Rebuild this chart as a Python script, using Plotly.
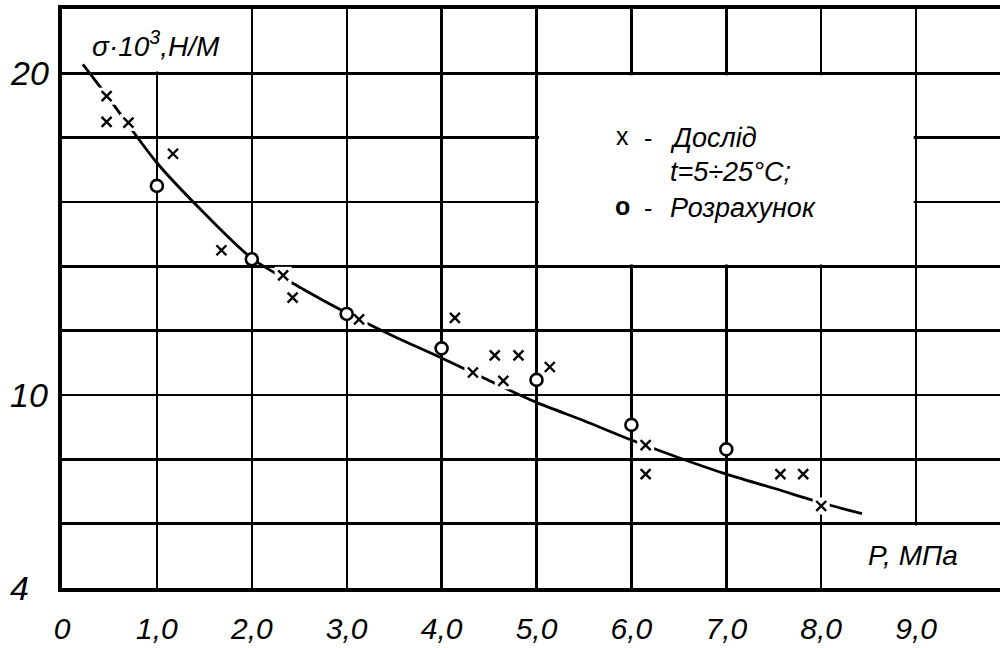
import plotly.graph_objects as go

# ---------------- data ----------------
# experimental points ("x" - Дослід)
exp_p = [0.47, 0.47, 0.70, 1.17, 1.68, 2.33, 2.43, 3.13, 4.14, 4.33, 4.56, 4.65, 4.81, 5.14, 6.15, 6.15, 7.57, 7.81, 8.00]
exp_s = [19.29, 18.49, 18.47, 17.50, 14.50, 13.72, 13.03, 12.35, 12.40, 10.70, 11.23, 10.44, 11.23, 10.87, 8.44, 7.54, 7.54, 7.54, 6.55]

# calculated points ("o" - Розрахунок)
calc_p = [1.0, 2.0, 3.0, 4.0, 5.0, 6.0, 7.0]
calc_s = [16.50, 14.22, 12.52, 11.45, 10.47, 9.07, 8.31]

# smooth curve
curve_p = [0.22, 0.5, 1.0, 1.5, 2.0, 2.5, 3.0, 3.5, 4.0, 4.5, 5.0, 5.5, 6.0, 6.5, 7.0, 7.5, 8.0, 8.43]
curve_s = [20.28, 19.20, 17.22, 15.65, 14.25, 13.36, 12.55, 11.82, 11.15, 10.45, 9.77, 9.20, 8.60, 8.05, 7.54, 7.10, 6.65, 6.31]

x_tick_vals = [0, 1, 2, 3, 4, 5, 6, 7, 8, 9]
x_tick_text = ["0", "1,0", "2,0", "3,0", "4,0", "5,0", "6,0", "7,0", "8,0", "9,0"]
y_grid_vals = [4, 6, 8, 10, 12, 14, 16, 18, 20, 22]
y_tick_vals = [4, 10, 20]
y_tick_text = ["4", "10", "20"]

# ---------------- layout constants ----------------
W, H = 1000, 648
ML, MR, MT, MB = 62, 0, 9, 60
X_MAX = 9.884
FONT = "Liberation Sans, Arial, sans-serif"


def pxx(px):
    return (px - ML) / (W - ML - MR)


def pxy(py):
    return 1 - (py - MT) / (H - MT - MB)


fig = go.Figure()

fig.add_trace(go.Scatter(
    x=curve_p, y=curve_s, mode="lines",
    line=dict(color="black", width=2.8, shape="spline", smoothing=0.8),
    hoverinfo="skip", showlegend=False))

# white knock-out behind the "x" marks
fig.add_trace(go.Scatter(
    x=exp_p, y=exp_s, mode="markers",
    marker=dict(symbol="square", size=17, color="white", line=dict(width=0)),
    hoverinfo="skip", showlegend=False))

fig.add_trace(go.Scatter(
    x=calc_p, y=calc_s, mode="markers",
    marker=dict(symbol="circle", size=12, color="white", line=dict(color="black", width=2.6)),
    showlegend=False))

fig.add_trace(go.Scatter(
    x=exp_p, y=exp_s, mode="markers",
    marker=dict(symbol="x-thin", size=10, color="black", line=dict(color="black", width=2.4)),
    showlegend=False))

shapes = [
    # title box (hides the 1,0 grid line above 20)
    dict(type="rect", xref="x", yref="y", x0=0, x1=1.975, y0=20.06, y1=22,
         fillcolor="white", line=dict(width=0), layer="between"),
    # legend box
    dict(type="rect", xref="x", yref="y", x0=5.025, x1=8.975, y0=14.06, y1=19.94,
         fillcolor="white", line=dict(width=0), layer="between"),
    # axis title box bottom right
    dict(type="rect", xref="x", yref="y", x0=8.025, x1=X_MAX, y0=4, y1=5.94,
         fillcolor="white", line=dict(width=0), layer="between"),
]

ann = []
for v, t in zip(y_tick_vals, y_tick_text):
    ann.append(dict(xref="paper", yref="y", x=pxx(8), y=v, text=t, showarrow=False,
                    xanchor="left", yanchor="middle",
                    font=dict(family=FONT, size=34, style="italic", color="black")))

ann.append(dict(xref="paper", yref="paper", x=pxx(90), y=pxy(44),
                text="σ·10<sup>3</sup>,Н/М", showarrow=False, xanchor="left", yanchor="middle",
                font=dict(family=FONT, size=28, style="italic", color="black")))
ann.append(dict(xref="paper", yref="paper", x=pxx(866), y=pxy(555),
                text="P, МПа", showarrow=False, xanchor="left", yanchor="middle",
                font=dict(family=FONT, size=28, style="italic", color="black")))

# legend text
leg_font = dict(family=FONT, size=27, style="italic", color="black")
sym_font = dict(family=FONT, size=25, color="black")
ann += [
    dict(xref="paper", yref="paper", x=pxx(622), y=pxy(136), text="x", showarrow=False,
         xanchor="center", yanchor="middle", font=sym_font),
    dict(xref="paper", yref="paper", x=pxx(648), y=pxy(138), text="-", showarrow=False,
         xanchor="center", yanchor="middle", font=sym_font),
    dict(xref="paper", yref="paper", x=pxx(668), y=pxy(138), text="Дослід", showarrow=False,
         xanchor="left", yanchor="middle", font=leg_font),
    dict(xref="paper", yref="paper", x=pxx(668), y=pxy(172), text="t=5÷25°C;", showarrow=False,
         xanchor="left", yanchor="middle", font=leg_font),
    dict(xref="paper", yref="paper", x=pxx(622), y=pxy(206), text="<b>o</b>", showarrow=False,
         xanchor="center", yanchor="middle", font=sym_font),
    dict(xref="paper", yref="paper", x=pxx(648), y=pxy(208), text="-", showarrow=False,
         xanchor="center", yanchor="middle", font=sym_font),
    dict(xref="paper", yref="paper", x=pxx(668), y=pxy(208), text="Розрахунок", showarrow=False,
         xanchor="left", yanchor="middle", font=leg_font),
]

fig.update_layout(
    width=W, height=H,
    margin=dict(l=ML, r=MR, t=MT, b=MB, pad=0, autoexpand=False),
    paper_bgcolor="white", plot_bgcolor="white",
    showlegend=False,
    shapes=shapes, annotations=ann,
    xaxis=dict(range=[0, X_MAX], tickvals=x_tick_vals, ticktext=x_tick_text,
               showgrid=True, gridcolor="black", gridwidth=2.4, zeroline=False,
               showline=True, linecolor="black", linewidth=4, mirror=True,
               ticks="", ticklabelstandoff=11, automargin=False,
               tickfont=dict(family="Liberation Sans Narrow, Liberation Sans, Arial", size=30,
                             style="italic", color="black")),
    yaxis=dict(range=[4, 22], tickvals=y_grid_vals, showticklabels=False, automargin=False,
               showgrid=True, gridcolor="black", gridwidth=2.4, zeroline=False,
               showline=True, linecolor="black", linewidth=4, mirror=False, ticks=""),
)

fig.write_html("out.html",
               config={"displayModeBar": False, "staticPlot": True},
               post_script="document.body.style.margin='0';document.body.style.padding='0';")
